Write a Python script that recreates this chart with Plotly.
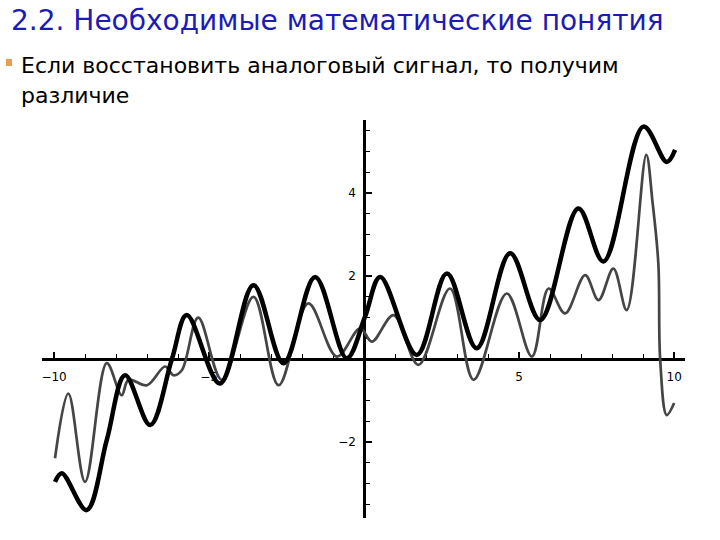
import plotly.graph_objects as go

# Black (thick) curve: points
black_x = [-9.97, -9.75, -8.95, -8.3, -7.71, -6.9, -6.2, -5.72, -4.65, -3.57, -2.6, -1.58,
           -0.56, 0.03, 0.52, 1.7, 2.67, 3.63, 4.71, 5.68, 6.91, 7.72, 9.01, 9.76, 10.03]
black_y = [-2.96, -2.75, -3.64, -1.95, -0.39, -1.59, 0.0, 1.06, -0.59, 1.78, -0.1, 1.98,
           0.02, 1.02, 1.98, 0.1, 2.06, 0.26, 2.55, 0.94, 3.63, 2.35, 5.6, 4.75, 5.04]

# Gray (thin) curve
gray_x = [-9.97, -9.54, -9.0, -8.3, -7.82, -7.6, -7.0, -6.42, -6.15, -5.88, -5.35, -4.59,
          -3.57, -2.76, -1.8, -0.88, -0.13, 0.25, 0.95, 1.75, 2.77, 3.53, 4.6, 5.41, 5.95,
          6.48, 7.13, 7.56, 8.04, 8.47, 9.1, 9.3, 9.49, 9.55, 9.76, 10.0]
gray_y = [-2.39, -0.83, -2.96, -0.1, -0.87, -0.5, -0.63, -0.18, -0.39, -0.27, 1.0, -0.5,
          1.5, -0.63, 1.34, 0.06, 0.74, 0.42, 1.06, -0.14, 1.7, -0.5, 1.58, 0.06, 1.7,
          1.1, 2.02, 1.42, 2.18, 1.18, 4.92, 3.8, 2.3, -0.02, -1.35, -1.06]

x_tickvals = [-10, -5, 5, 10]
x_ticktext = ["\u221210", "\u22125", "5", "10"]
y_tickvals = [-2, 2, 4]
y_ticktext = ["\u22122", "2", "4"]

title_text = "2.2. Необходимые математические понятия"
bullet_line1 = "Если восстановить аналоговый сигнал, то получим"
bullet_line2 = "различие"

X_RANGE = [-10.39, 10.35]
Y_RANGE = [-3.83, 5.76]
FW, FH = 720, 540
L, T = 42, 120
PW, PH = 643, 398
R, B = FW - L - PW, FH - T - PH


def px_x(p):
    return (p - L) / PW


def px_y(p):
    return (T + PH - p) / PH


fig = go.Figure()
fig.add_trace(go.Scatter(x=gray_x, y=gray_y, mode="lines",
                         line=dict(color="#454545", width=2.7, shape="spline", smoothing=1.0),
                         hoverinfo="skip", showlegend=False))
fig.add_trace(go.Scatter(x=black_x, y=black_y, mode="lines",
                         line=dict(color="#000000", width=4.5, shape="spline", smoothing=1.0),
                         hoverinfo="skip", showlegend=False))

x_pos = (0 - Y_RANGE[0]) / (Y_RANGE[1] - Y_RANGE[0])
y_pos = (0 - X_RANGE[0]) / (X_RANGE[1] - X_RANGE[0])

fig.update_layout(
    width=FW, height=FH,
    margin=dict(l=L, r=R, t=T, b=B),
    paper_bgcolor="white", plot_bgcolor="white",
    showlegend=False,
    xaxis=dict(range=X_RANGE, anchor="free", position=x_pos, showgrid=False, zeroline=False,
               showline=True, linecolor="black", linewidth=2.5, layer="below traces",
               tickmode="array", tickvals=x_tickvals, ticktext=x_ticktext,
               ticks="inside", ticklen=6, tickwidth=1.5, tickcolor="black",
               ticklabelstandoff=6,
               minor=dict(tickmode="linear", tick0=0, dtick=1, ticks="inside", ticklen=4,
                          tickwidth=1.2, tickcolor="black"),
               tickfont=dict(family="DejaVu Sans", size=12, color="black")),
    yaxis=dict(range=Y_RANGE, anchor="free", position=y_pos, showgrid=False, zeroline=False,
               showline=True, linecolor="black", linewidth=2.5, layer="below traces",
               tickmode="array", tickvals=y_tickvals, ticktext=y_ticktext,
               ticks="inside", ticklen=6, tickwidth=1.5, tickcolor="black",
               ticklabelstandoff=5,
               minor=dict(tickmode="linear", tick0=0, dtick=0.5, ticks="inside", ticklen=4,
                          tickwidth=1.2, tickcolor="black"),
               tickfont=dict(family="DejaVu Sans", size=12, color="black")),
)

fig.add_annotation(text=title_text, xref="paper", yref="paper",
                   x=px_x(9), y=px_y(21), xanchor="left", yanchor="middle", showarrow=False,
                   font=dict(family="DejaVu Sans", size=28, color="#1c1cb4"))
fig.add_annotation(text=bullet_line1, xref="paper", yref="paper",
                   x=px_x(19), y=px_y(66), xanchor="left", yanchor="middle", showarrow=False,
                   font=dict(family="DejaVu Sans", size=22, color="black"))
fig.add_annotation(text=bullet_line2, xref="paper", yref="paper",
                   x=px_x(19), y=px_y(96), xanchor="left", yanchor="middle", showarrow=False,
                   font=dict(family="DejaVu Sans", size=22, color="black"))
fig.add_shape(type="rect", xref="paper", yref="paper",
              x0=px_x(6), x1=px_x(12), y0=px_y(66), y1=px_y(59),
              fillcolor="#e8a050", line=dict(width=0))

fig.write_html("out.html", config={"displayModeBar": False},
               post_script="document.body.style.margin='0';")
